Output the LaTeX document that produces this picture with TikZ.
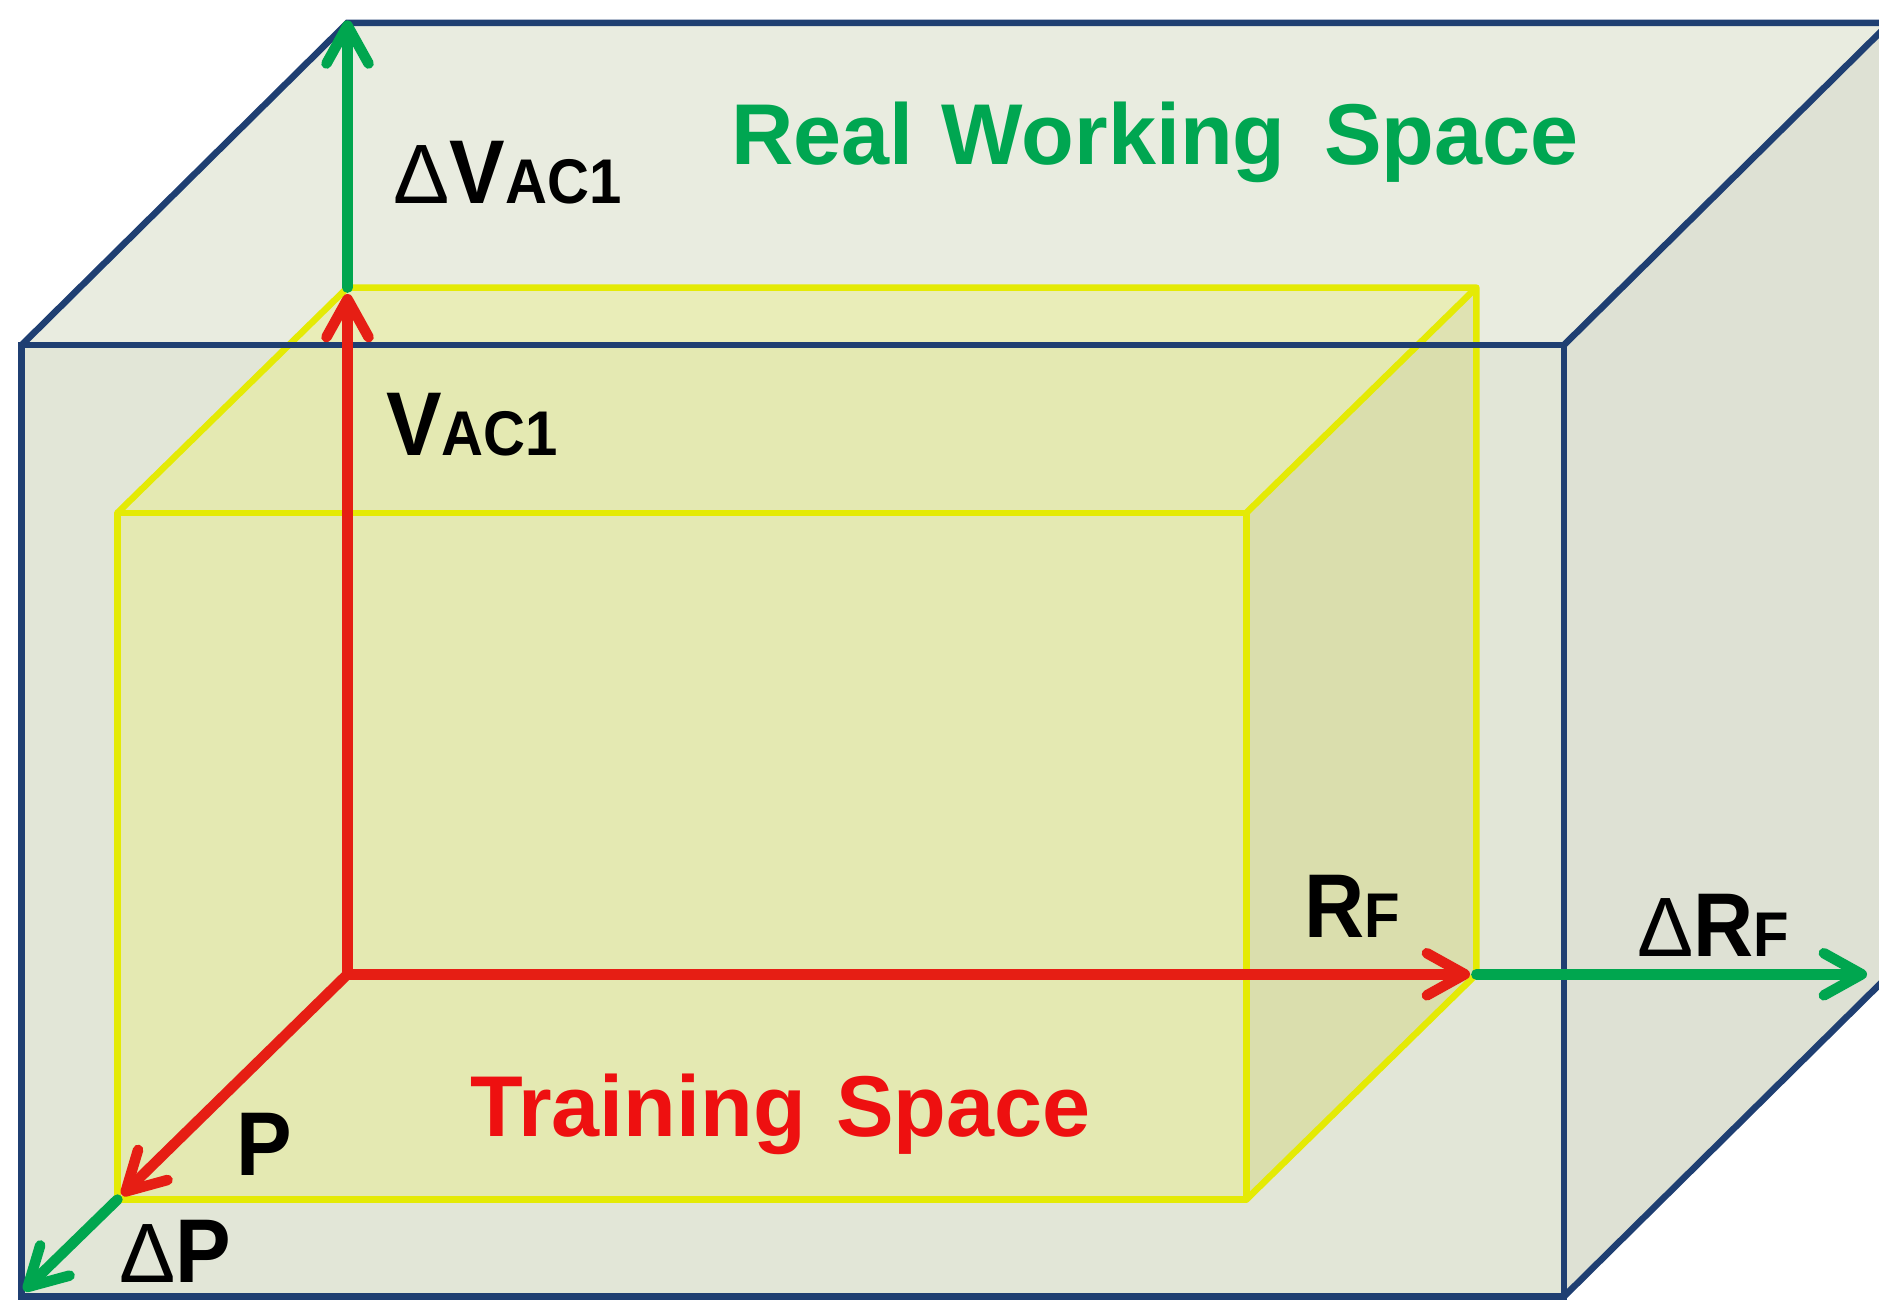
\documentclass[tikz,border=0pt]{standalone}
\usepackage{fontspec}
\setmainfont{Liberation Sans}
\newfontfamily\labfont{Liberation Sans}[FakeStretch=0.92]
\usetikzlibrary{arrows.meta}
\definecolor{bluee}{HTML}{1F3F72}
\definecolor{yel}{HTML}{E4EA05}
\definecolor{redA}{HTML}{E61E14}
\definecolor{grnA}{HTML}{00A64F}
\definecolor{grnT}{HTML}{00A651}
\definecolor{redT}{HTML}{EE1010}
\definecolor{otop}{HTML}{E9ECE0}
\definecolor{ofront}{HTML}{E2E6D7}
\definecolor{oright}{HTML}{DEE1D4}
\definecolor{ovl}{HTML}{EBF064}
\definecolor{ovldark}{HTML}{CDD05F}
\tikzset{
  blueedge/.style={draw=bluee, line width=3.1pt, line join=miter},
  yeledge/.style={draw=yel, line width=3.1pt, line join=round},
  axisarrow/.style={line width=5pt, line cap=round, -{Straight Barb[length=18pt,width=20pt,round]}},
  redax/.style={axisarrow, draw=redA, shorten >=3pt},
  grnax/.style={axisarrow, draw=grnA},
  lab/.style={inner sep=0pt, anchor=base west, text=black, font=\labfont\fontsize{43}{50}\selectfont\bfseries},
  title/.style={inner sep=0pt, anchor=base west, font=\fontsize{41}{49}\selectfont\bfseries}
}
\newcommand{\subsz}[1]{{\fontsize{30}{34}\selectfont #1}}
\newcommand{\dlt}{{\normalfont\fontsize{40}{48}\selectfont Δ}}
\begin{document}
\begin{tikzpicture}[x=0.02cm, y=-0.02cm]
\useasboundingbox (0,0) rectangle (1568,1086);
\clip (0,0) rectangle (1568,1086);
% outer box corners
\coordinate (oFTL) at (18,288);
\coordinate (oFTR) at (1305,288);
\coordinate (oFBR) at (1305,1082);
\coordinate (oFBL) at (18,1082);
\coordinate (oBTL) at (290,19);
\coordinate (oBTR) at (1577,19);
\coordinate (oBBR) at (1577,813);
% inner box corners
\coordinate (O) at (290,813);
\coordinate (iBTL) at (290,240);
\coordinate (iBTR) at (1232,240);
\coordinate (iBBR) at (1232,813);
\coordinate (iFTL) at (98,428);
\coordinate (iFTR) at (1040,428);
\coordinate (iFBR) at (1040,1001);
\coordinate (iFBL) at (98,1001);
% arrow ends
\coordinate (gTop) at (290,17);
\coordinate (gRight) at (1558,813);
\coordinate (gDown) at (20,1077);
% outer fills
\fill[otop] (oFTL) -- (oBTL) -- (oBTR) -- (oFTR) -- cycle;
\fill[oright] (oFTR) -- (oBTR) -- (oBBR) -- (oFBR) -- cycle;
\fill[ofront] (oFTL) rectangle (oFBR);
% inner fills
\fill[ovl, fill opacity=0.32] (iFTL) rectangle (iFBR);
\fill[ovl, fill opacity=0.32] (iFTL) -- (iBTL) -- (iBTR) -- (iFTR) -- cycle;
\fill[ovldark, fill opacity=0.35] (iFTR) -- (iBTR) -- (iBBR) -- (iFBR) -- cycle;
% inner edges
\draw[yeledge] (iFTL) rectangle (iFBR);
\draw[yeledge] (iFTL) -- (iBTL) -- (iBTR) -- (iBBR) -- (iFBR);
\draw[yeledge] (iBTR) -- (iFTR);
% outer edges
\draw[blueedge] (oFTL) rectangle (oFBR);
\draw[blueedge] (oFTL) -- (oBTL) -- (oBTR) -- (oBBR) -- (oFBR);
\draw[blueedge] (oBTR) -- (oFTR);
% axes
\draw[grnax] (iBTL) -- (gTop);
\draw[grnax] (iBBR) -- (gRight);
\draw[grnax] (iFBL) -- (gDown);
\draw[redax] (O) -- (iBTL);
\draw[redax] (O) -- (iBBR);
\draw[redax] (O) -- (iFBL);
% labels
\node[title, text=grnT] (rws) at (610,137) {Real\hspace{2pt} Working\hspace{7pt} Space};
\node[title, text=redT] (ts) at (392,948) {Training\hspace{3pt} Space};
\node[lab] (dv) at (328,170) {\dlt V\subsz{AC1}};
\node[lab] (v) at (322,380) {V\subsz{AC1}};
\node[lab] (rf) at (1088,782) {R\subsz{F}};
\node[lab] (drf) at (1366,798) {\dlt R\subsz{F}};
\node[lab] (p) at (197,981) {P};
\node[lab] (dp) at (99,1070) {\dlt P};
\end{tikzpicture}
\end{document}
